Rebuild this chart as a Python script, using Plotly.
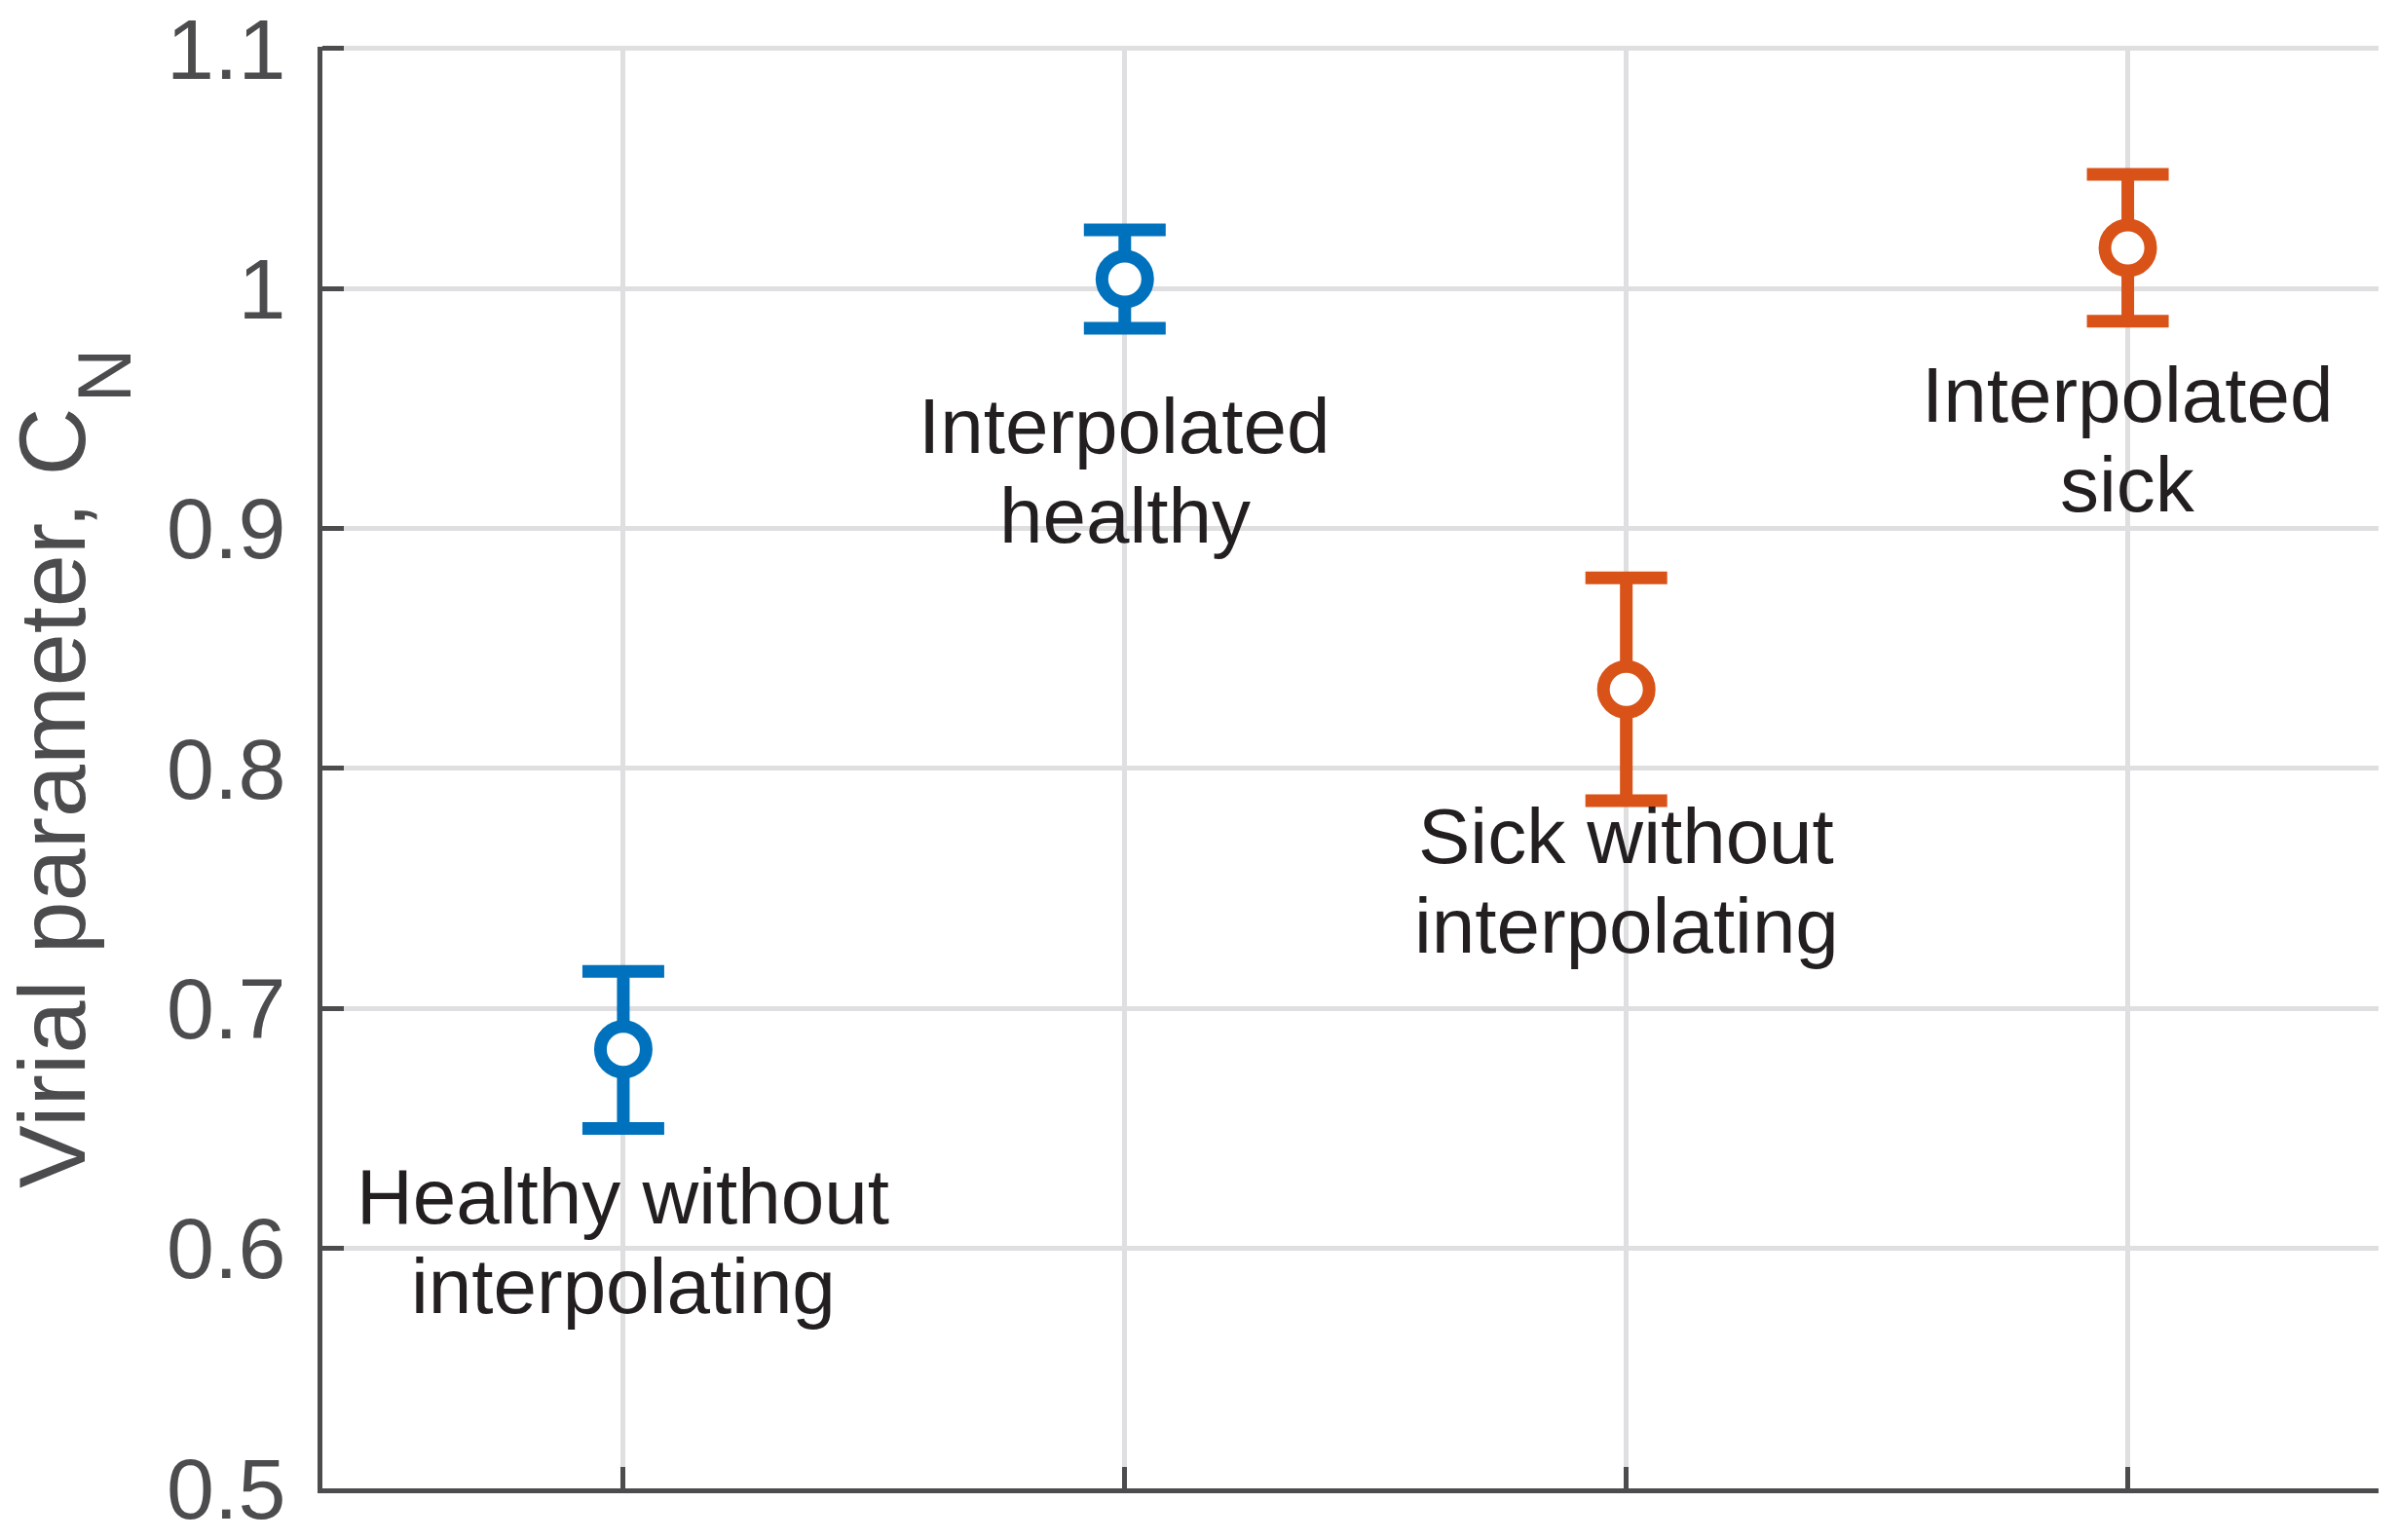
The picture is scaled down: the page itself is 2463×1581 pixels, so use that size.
import plotly.graph_objects as go

# ---- data ----
positions = [1, 2, 3, 4]
labels = ["Healthy without<br>interpolating", "Interpolated<br>healthy",
          "Sick without<br>interpolating", "Interpolated<br>sick"]
groups = ["healthy", "healthy", "sick", "sick"]
values = [0.683, 1.004, 0.833, 1.017]
upper = [0.7155, 1.0245, 0.8795, 1.0476]
lower = [0.650, 0.9835, 0.7866, 0.9864]
ytick_vals = [0.5, 0.6, 0.7, 0.8, 0.9, 1.0, 1.1]
ytick_text = ["0.5", "0.6", "0.7", "0.8", "0.9", "1", "1.1"]
y_title_main = "Virial parameter, C"
y_title_sub = "N"

colors = {"healthy": "#0072BD", "sick": "#D95319"}
FONT = "Liberation Sans, Arial, Helvetica, sans-serif"
AXIS_COLOR = "#4c4c4e"
GRID_COLOR = "#dfdfe1"

fig = go.Figure()
for g in ["healthy", "sick"]:
    idx = [i for i, gg in enumerate(groups) if gg == g]
    xs = [positions[i] for i in idx]
    ys = [values[i] for i in idx]
    up = [upper[i] - values[i] for i in idx]
    dn = [values[i] - lower[i] for i in idx]
    fig.add_trace(go.Scatter(
        x=xs, y=ys, mode="markers",
        marker=dict(symbol="circle", size=47, color="white",
                    line=dict(color=colors[g], width=13)),
        error_y=dict(type="data", symmetric=False, array=up, arrayminus=dn,
                     color=colors[g], thickness=13, width=42),
        showlegend=False, cliponaxis=False, hoverinfo="skip",
    ))

# text labels below each point
for x, v, lab in zip(positions, values, labels):
    lines = lab.split("<br>")
    for k, line in enumerate(lines):
        fig.add_annotation(
            x=x, y=v, xref="x", yref="y", text=line, showarrow=False,
            xanchor="center", yanchor="middle", yshift=-(151 + 92 * k),
            font=dict(family=FONT, size=80, color="#231f20"),
        )

# y-axis title (main part + lowered subscript)
fig.add_annotation(
    x=-0.1315, y=0.4787, xref="paper", yref="paper", text=y_title_main,
    showarrow=False, textangle=-90, xanchor="center", yanchor="middle",
    font=dict(family=FONT, size=97, color=AXIS_COLOR),
)
fig.add_annotation(
    x=-0.106, y=0.7723, xref="paper", yref="paper", text=y_title_sub,
    showarrow=False, textangle=-90, xanchor="center", yanchor="middle",
    font=dict(family=FONT, size=77, color=AXIS_COLOR),
)

fig.update_layout(
    template="none",
    width=2463, height=1581,
    margin=dict(l=331, r=21, t=48, b=53, pad=0, autoexpand=False),
    paper_bgcolor="white", plot_bgcolor="white",
    font=dict(family=FONT, color=AXIS_COLOR),
    xaxis=dict(
        range=[0.4, 4.5], tickvals=positions, showticklabels=False,
        automargin=False,
        ticks="inside", ticklen=22, tickwidth=5, tickcolor=AXIS_COLOR,
        showline=True, linecolor=AXIS_COLOR, linewidth=5,
        showgrid=True, gridcolor=GRID_COLOR, gridwidth=5, zeroline=False,
    ),
    yaxis=dict(
        range=[0.5, 1.1008], tickvals=ytick_vals, ticktext=ytick_text,
        automargin=False,
        ticks="inside", ticklen=22, tickwidth=5, tickcolor=AXIS_COLOR,
        tickfont=dict(family=FONT, size=88, color=AXIS_COLOR),
        ticklabelstandoff=15,
        showline=True, linecolor=AXIS_COLOR, linewidth=5,
        showgrid=True, gridcolor=GRID_COLOR, gridwidth=5, zeroline=False,
    ),
)

fig.write_html(
    "out.html",
    config={"displayModeBar": False, "responsive": False},
    post_script="document.body.style.margin='0';document.body.style.overflow='hidden';",
)
